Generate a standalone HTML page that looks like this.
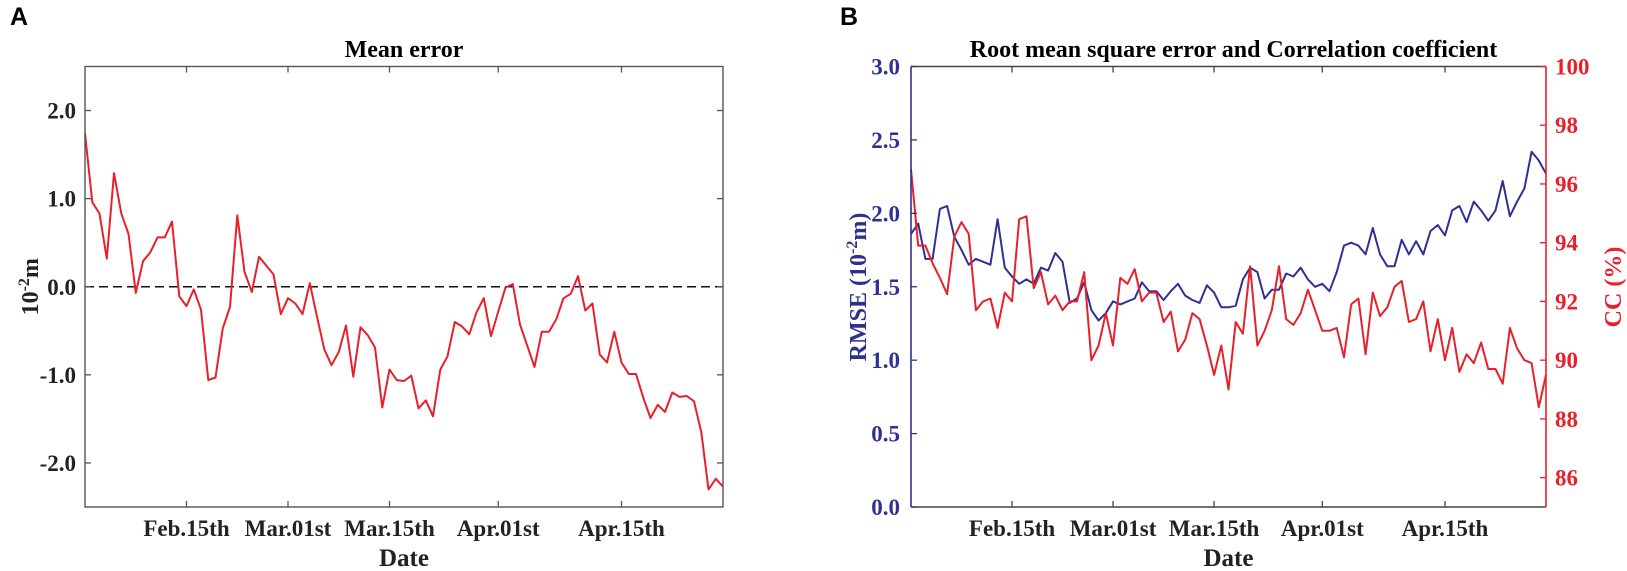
<!DOCTYPE html>
<html><head><meta charset="utf-8"><style>
html,body{margin:0;padding:0;background:#fff;}
svg{display:block;font-family:"Liberation Serif",serif;}
</style></head><body>
<svg id="fig" width="1627" height="571" viewBox="0 0 1627 571"></svg>
<script>
const dayCount = 89;
const xTickIdx = [14, 28, 42, 57, 74];
const xTickLabels = ["Feb.15th", "Mar.01st", "Mar.15th", "Apr.01st", "Apr.15th"];
const meTicks = [2.0, 1.0, 0.0, -1.0, -2.0];
const meanError = [1.74,0.96,0.83,0.32,1.29,0.83,0.60,-0.07,0.29,0.39,0.56,0.56,0.74,-0.11,-0.22,-0.03,-0.26,-1.06,-1.03,-0.47,-0.23,0.81,0.17,-0.06,0.34,0.24,0.14,-0.31,-0.13,-0.19,-0.31,0.04,-0.34,-0.71,-0.89,-0.74,-0.44,-1.02,-0.46,-0.55,-0.69,-1.37,-0.94,-1.06,-1.07,-1.01,-1.38,-1.29,-1.47,-0.94,-0.79,-0.40,-0.45,-0.54,-0.29,-0.13,-0.56,-0.28,-0.01,0.03,-0.43,-0.67,-0.91,-0.51,-0.51,-0.37,-0.13,-0.08,0.12,-0.27,-0.19,-0.77,-0.86,-0.51,-0.86,-0.99,-0.99,-1.26,-1.49,-1.34,-1.42,-1.20,-1.25,-1.24,-1.30,-1.65,-2.30,-2.18,-2.27];
const rmseTicks = [0.0, 0.5, 1.0, 1.5, 2.0, 2.5, 3.0];
const ccTicks = [86, 88, 90, 92, 94, 96, 98, 100];
const rmse = [1.86,1.93,1.69,1.69,2.03,2.05,1.84,1.75,1.65,1.69,1.67,1.65,1.96,1.63,1.57,1.52,1.55,1.52,1.63,1.61,1.73,1.67,1.39,1.42,1.53,1.34,1.27,1.32,1.40,1.38,1.40,1.42,1.53,1.47,1.47,1.41,1.47,1.52,1.44,1.41,1.39,1.51,1.46,1.36,1.36,1.37,1.55,1.63,1.60,1.42,1.48,1.48,1.59,1.57,1.63,1.55,1.50,1.52,1.47,1.60,1.78,1.80,1.78,1.72,1.90,1.72,1.64,1.64,1.82,1.72,1.81,1.72,1.88,1.92,1.85,2.02,2.05,1.94,2.08,2.02,1.95,2.02,2.22,1.98,2.08,2.17,2.42,2.36,2.27];
const cc = [96.5,93.9,93.9,93.3,92.8,92.25,94.2,94.7,94.3,91.7,92.0,92.1,91.1,92.3,92.0,94.8,94.9,92.45,93.0,91.9,92.2,91.7,92.0,92.0,93.0,90.0,90.5,91.6,90.5,92.8,92.6,93.1,92.0,92.3,92.3,91.3,91.65,90.3,90.7,91.6,91.4,90.5,89.5,90.5,89.0,91.3,90.9,93.2,90.5,91.0,91.7,93.2,91.4,91.2,91.6,92.4,91.7,91.0,91.0,91.1,90.1,91.9,92.1,90.2,92.3,91.5,91.8,92.5,92.7,91.3,91.4,92.0,90.3,91.4,90.0,91.1,89.6,90.2,89.9,90.6,89.7,89.7,89.2,91.1,90.4,90.0,89.9,88.4,89.5];

const svg = document.getElementById('fig');
const NS = 'http://www.w3.org/2000/svg';
function mk(tag, attrs, parent, text) {
  const e = document.createElementNS(NS, tag);
  for (const k in attrs) e.setAttribute(k, attrs[k]);
  if (text !== undefined) e.textContent = text;
  (parent || svg).appendChild(e);
  return e;
}
const BLUE = '#2e3192', RED = '#e8202a';
const FS = 23;

// ---------- Panel A ----------
const A = {l: 85, r: 723, t: 66.5, b: 507, ymin: -2.5, ymax: 2.5};
const axA = i => A.l + (A.r - A.l) * i / (dayCount - 1);
const ayA = v => A.b - (v - A.ymin) / (A.ymax - A.ymin) * (A.b - A.t);

let t = mk('text', {x: 10, y: 25, 'font-family': '"Liberation Sans",sans-serif', 'font-weight': 'bold', 'font-size': 25});
t.textContent = 'A';



t = mk('text', {x: (A.l + A.r) / 2, y: 57, 'text-anchor': 'middle', 'font-weight': 'bold', 'font-size': 24}, null, 'Mean error');



let zero = mk('line', {x1: A.l, x2: A.r, y1: ayA(0), y2: ayA(0), stroke: '#111', 'stroke-width': 1.5, 'stroke-dasharray': '9,5'});



let pts = meanError.map((v, i) => axA(i).toFixed(1) + ',' + ayA(v).toFixed(1)).join(' ');
let ln = mk('polyline', {points: pts, fill: 'none', stroke: RED, 'stroke-width': 2, 'stroke-linejoin': 'round'});



let box = mk('rect', {x: A.l, y: A.t, width: A.r - A.l, height: A.b - A.t, fill: 'none', stroke: '#555', 'stroke-width': 1.4});



meTicks.forEach(v => {
  const y = ayA(v);
  mk('line', {x1: A.l, x2: A.l + 6, y1: y, y2: y, stroke: '#555', 'stroke-width': 1.3});
  mk('line', {x1: A.r, x2: A.r - 6, y1: y, y2: y, stroke: '#555', 'stroke-width': 1.3});
  const lab = mk('text', {x: A.l - 9, y: y + 8, 'text-anchor': 'end', 'font-weight': 'bold', 'font-size': FS, fill: '#222'}, null, v.toFixed(1));
  
  
});
xTickIdx.forEach((d, k) => {
  const x = axA(d);
  mk('line', {x1: x, x2: x, y1: A.b, y2: A.b - 6, stroke: '#555', 'stroke-width': 1.3});
  mk('line', {x1: x, x2: x, y1: A.t, y2: A.t + 6, stroke: '#555', 'stroke-width': 1.3});
  const lab = mk('text', {x: x, y: 536, 'text-anchor': 'middle', 'font-weight': 'bold', 'font-size': FS, fill: '#222'}, null, xTickLabels[k]);
  
  
});
t = mk('text', {x: (A.l + A.r) / 2, y: 566, 'text-anchor': 'middle', 'font-weight': 'bold', 'font-size': 25, fill: '#222'}, null, 'Date');


t = mk('text', {transform: 'translate(38,' + ayA(0) + ') rotate(-90)', 'text-anchor': 'middle', 'font-weight': 'bold', 'font-size': 24, fill: '#222'});
t.innerHTML = '10<tspan dy="-9" font-size="16">-2</tspan><tspan dy="9">m</tspan>';



// ---------- Panel B ----------
const B = {l: 911, r: 1546, t: 66.5, b: 507, rmin: 0, rmax: 3, cmin: 85, cmax: 100};
const axB = i => B.l + (B.r - B.l) * i / (dayCount - 1);
const ayR = v => B.b - (v - B.rmin) / (B.rmax - B.rmin) * (B.b - B.t);
const ayC = v => B.b - (v - B.cmin) / (B.cmax - B.cmin) * (B.b - B.t);

t = mk('text', {x: 840, y: 25, 'font-family': '"Liberation Sans",sans-serif', 'font-weight': 'bold', 'font-size': 25});
t.textContent = 'B';


t = mk('text', {x: (B.l + B.r) / 2 + 5, y: 57, 'text-anchor': 'middle', 'font-weight': 'bold', 'font-size': 24}, null, 'Root mean square error and Correlation coefficient');



pts = rmse.map((v, i) => axB(i).toFixed(1) + ',' + ayR(v).toFixed(1)).join(' ');
ln = mk('polyline', {points: pts, fill: 'none', stroke: BLUE, 'stroke-width': 2, 'stroke-linejoin': 'round'});


pts = cc.map((v, i) => axB(i).toFixed(1) + ',' + ayC(v).toFixed(1)).join(' ');
ln = mk('polyline', {points: pts, fill: 'none', stroke: RED, 'stroke-width': 2, 'stroke-linejoin': 'round'});



let e = mk('line', {x1: B.l, x2: B.r, y1: B.t, y2: B.t, stroke: '#444', 'stroke-width': 1.4});


e = mk('line', {x1: B.l, x2: B.r, y1: B.b, y2: B.b, stroke: '#444', 'stroke-width': 1.4});


e = mk('line', {x1: B.l, x2: B.l, y1: B.t, y2: B.b, stroke: BLUE, 'stroke-width': 1.6});


e = mk('line', {x1: B.r, x2: B.r, y1: B.t, y2: B.b, stroke: RED, 'stroke-width': 1.6});



rmseTicks.forEach(v => {
  const y = ayR(v);
  mk('line', {x1: B.l, x2: B.l + 6, y1: y, y2: y, stroke: BLUE, 'stroke-width': 1.3});
  const lab = mk('text', {x: B.l - 11, y: y + 8, 'text-anchor': 'end', 'font-weight': 'bold', 'font-size': FS, fill: BLUE}, null, v.toFixed(1));
  
  
});
ccTicks.forEach(v => {
  const y = ayC(v);
  mk('line', {x1: B.r, x2: B.r - 6, y1: y, y2: y, stroke: RED, 'stroke-width': 1.3});
  const lab = mk('text', {x: B.r + 9, y: y + 8, 'text-anchor': 'start', 'font-weight': 'bold', 'font-size': FS, fill: RED}, null, String(v));
  
  
});
xTickIdx.forEach((d, k) => {
  const x = axB(d);
  mk('line', {x1: x, x2: x, y1: B.b, y2: B.b - 6, stroke: '#444', 'stroke-width': 1.3});
  mk('line', {x1: x, x2: x, y1: B.t, y2: B.t + 6, stroke: '#444', 'stroke-width': 1.3});
  const lab = mk('text', {x: x, y: 536, 'text-anchor': 'middle', 'font-weight': 'bold', 'font-size': FS, fill: '#222'}, null, xTickLabels[k]);
  
  
});
t = mk('text', {x: (B.l + B.r) / 2, y: 566, 'text-anchor': 'middle', 'font-weight': 'bold', 'font-size': 25, fill: '#222'}, null, 'Date');


t = mk('text', {transform: 'translate(866,287) rotate(-90)', 'text-anchor': 'middle', 'font-weight': 'bold', 'font-size': 24, fill: BLUE});
t.innerHTML = 'RMSE (10<tspan dy="-9" font-size="16">-2</tspan><tspan dy="9">m)</tspan>';


t = mk('text', {transform: 'translate(1621,287) rotate(-90)', 'text-anchor': 'middle', 'font-weight': 'bold', 'font-size': 24, fill: RED}, null, 'CC (%)');


</script>
</body></html>
